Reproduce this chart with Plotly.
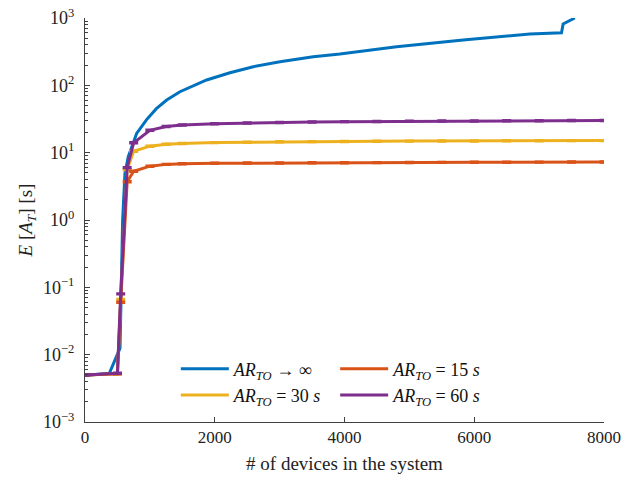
import plotly.graph_objects as go

# ---- data ----
x_inf = [0, 375, 540, 560, 580, 616, 667, 796, 950, 1100, 1259, 1464, 1875, 2234, 2594, 3005, 3518, 3929, 4803, 5829, 6857, 7345, 7370, 7550]
y_inf = [0.0049, 0.0053, 0.0125, 0.1, 1.0, 4.9, 8.7, 19.3, 31, 45, 60.5, 80.4, 120, 154, 189, 224, 266, 292, 375, 471, 578, 605, 814, 1000]

x_eb = [0, 500, 550, 650, 750, 1000, 1250, 1500, 2000, 2500, 3000, 3500, 4000, 4500, 5000, 5500, 6000, 6500, 7000, 7500, 8000]
y_15 = [0.005, 0.0052, 0.06, 3.7, 5.3, 6.3, 6.7, 6.85, 6.95, 7.0, 7.05, 7.08, 7.1, 7.12, 7.15, 7.18, 7.2, 7.22, 7.24, 7.26, 7.28]
y_30 = [0.005, 0.0052, 0.066, 5.6, 10.5, 12.5, 13.3, 13.7, 14.1, 14.3, 14.5, 14.6, 14.7, 14.8, 14.85, 14.9, 14.95, 15.0, 15.05, 15.1, 15.1]
y_60 = [0.005, 0.0053, 0.08, 6.0, 14.0, 21.5, 24.5, 25.8, 26.8, 27.5, 28.0, 28.5, 28.9, 29.1, 29.3, 29.5, 29.6, 29.75, 29.85, 29.95, 30.0]

y_tickvals = [1e-3, 1e-2, 1e-1, 1, 10, 100, 1000]
y_ticktext = ["10<sup>−3</sup>", "10<sup>−2</sup>", "10<sup>−1</sup>", "10<sup>0</sup>",
              "10<sup>1</sup>", "10<sup>2</sup>", "10<sup>3</sup>"]
x_tickvals = [0, 2000, 4000, 6000, 8000]

err_frac = 0.025
names = ["<i>AR</i><sub><i>TO</i></sub> → ∞",
         "<i>AR</i><sub><i>TO</i></sub> = 15 <i>s</i>",
         "<i>AR</i><sub><i>TO</i></sub> = 30 <i>s</i>",
         "<i>AR</i><sub><i>TO</i></sub> = 60 <i>s</i>"]
c_blue, c_orange, c_yellow, c_purple = "#0072BD", "#D95319", "#EDB120", "#7E2F8E"

FONT = "Liberation Serif, DejaVu Serif, serif"
fig = go.Figure()

fig.add_trace(go.Scatter(x=x_inf, y=y_inf, mode="lines", name=names[0],
                         line=dict(color=c_blue, width=3), legend="legend"))

def eb_trace(y, name, color, leg):
    return go.Scatter(x=x_eb, y=y, mode="lines", name=name,
                      line=dict(color=color, width=3), legend=leg,
                      error_y=dict(type="data", array=[v * err_frac for v in y],
                                   color=color, thickness=2, width=4.5, visible=True))

fig.add_trace(eb_trace(y_30, names[2], c_yellow, "legend"))
fig.add_trace(eb_trace(y_15, names[1], c_orange, "legend2"))
fig.add_trace(eb_trace(y_60, names[3], c_purple, "legend2"))

axis_col = "#404040"
legstyle = dict(bgcolor="rgba(255,255,255,0)", borderwidth=0,
                font=dict(family=FONT, size=18, color="#111"),
                yanchor="top", xanchor="left", tracegroupgap=0, itemwidth=48)

fig.update_layout(
    width=640, height=481,
    margin=dict(l=85, r=36, t=18, b=59),
    paper_bgcolor="white", plot_bgcolor="white",
    font=dict(family=FONT, size=17, color="#262626"),
    showlegend=True,
    legend=dict(x=0.175, y=0.177, **legstyle),
    legend2=dict(x=0.482, y=0.177, **legstyle),
    xaxis=dict(range=[0, 8000], tickmode="array", tickvals=x_tickvals,
               ticks="inside", ticklen=5, tickcolor=axis_col, automargin=False,
               showline=True, linecolor=axis_col, linewidth=1, mirror=False,
               showgrid=False, zeroline=False,
               tickfont=dict(family=FONT, size=17, color="#222"),
               title=dict(text="# of devices in the system",
                          font=dict(family=FONT, size=19, color="#222"), standoff=10)),
    yaxis=dict(type="log", range=[-3, 3], tickmode="array", tickvals=y_tickvals, ticktext=y_ticktext,
               ticks="inside", ticklen=5, tickcolor=axis_col, automargin=False,
               minor=dict(ticks="inside", ticklen=3, tickcolor=axis_col, dtick="D1", showgrid=False),
               showline=True, linecolor=axis_col, linewidth=1, mirror=False,
               showgrid=False, zeroline=False, ticklabelstandoff=6,
               tickfont=dict(family=FONT, size=18, color="#222"),
               title=dict(text="<i>E</i> [<i>A</i><sub><i>T</i></sub>] [s]",
                          font=dict(family=FONT, size=19, color="#222"), standoff=5)),
)

fig.write_html("out.html")
